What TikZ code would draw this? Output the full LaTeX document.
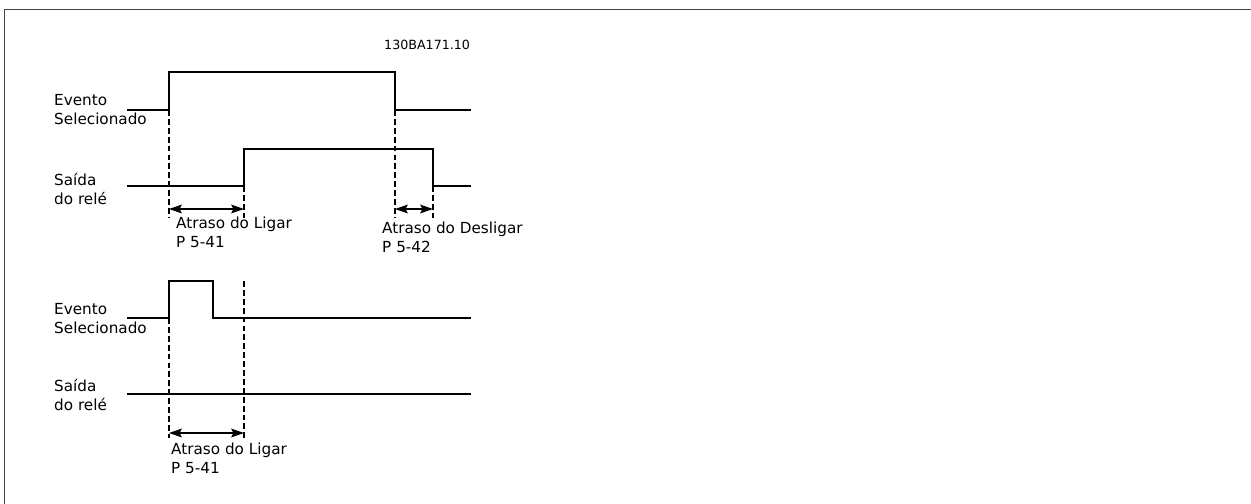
\documentclass[tikz,border=0pt]{standalone}
\usepackage{fontspec}
\setmainfont{DejaVu Sans}
\usetikzlibrary{arrows.meta}

\begin{document}
\begin{tikzpicture}[x=0.03cm, y=-0.03cm,
    signal/.style={line width=1.1pt},
    guide/.style={line width=0.9pt, dash pattern=on 5pt off 2.6pt},
    delay/.style={line width=1.1pt, {Stealth[length=11pt,width=7.5pt,inset=2pt]}-{Stealth[length=11pt,width=7.5pt,inset=2pt]}},
    lbl/.style={anchor=base west, inner sep=0pt, align=left, font=\fontsize{13}{15.5}\selectfont}]

    \useasboundingbox (0,0) rectangle (1251,504);

    %% frame
    \draw[gray!55!black, line width=1.3pt] (4.5,504) -- (4.5,9.5) -- (1251,9.5);
    \node[lbl, font=\fontsize{10.8}{12}\selectfont] (code) at (384,49) {130BA171.10};

    %% upper diagram: long event
    \node[lbl] (ev1) at (54,124) {Evento\\Selecionado};
    \node[lbl] (out1) at (54,204) {Saída\\do relé};
    \draw[signal] (127,110) -- (169,110) -- (169,72) -- (395,72) -- (395,110) -- (471,110);
    \draw[signal] (127,186) -- (244,186) -- (244,149) -- (433,149) -- (433,186) -- (471,186);
    \foreach \x/\y in {169/110, 244/186, 395/110, 433/186}
      \draw[guide] (\x,\y) -- (\x,218);

    \coordinate (on1a) at (169,209);
    \coordinate (on1b) at (244,209);
    \coordinate (off1a) at (395,209);
    \coordinate (off1b) at (433,209);
    \draw[delay] (on1a) -- (on1b);
    \draw[delay] (off1a) -- (off1b);
    \node[lbl] (ligar1) at (176,247) {Atraso do Ligar\\P 5-41};
    \node[lbl] (desligar1) at (382,252) {Atraso do Desligar\\P 5-42};

    %% lower diagram: short event
    \node[lbl] (ev2) at (54,333) {Evento\\Selecionado};
    \node[lbl] (out2) at (54,410) {Saída\\do relé};
    \draw[signal] (127,318) -- (169,318) -- (169,281) -- (213,281) -- (213,318) -- (471,318);
    \draw[signal] (127,394) -- (471,394);
    \draw[guide] (169,318) -- (169,438);
    \draw[guide] (244,281) -- (244,438);

    \coordinate (on2a) at (169,433);
    \coordinate (on2b) at (244,433);
    \draw[delay] (on2a) -- (on2b);
    \node[lbl] (ligar2) at (171,473) {Atraso do Ligar\\P 5-41};

\end{tikzpicture}
\end{document}
